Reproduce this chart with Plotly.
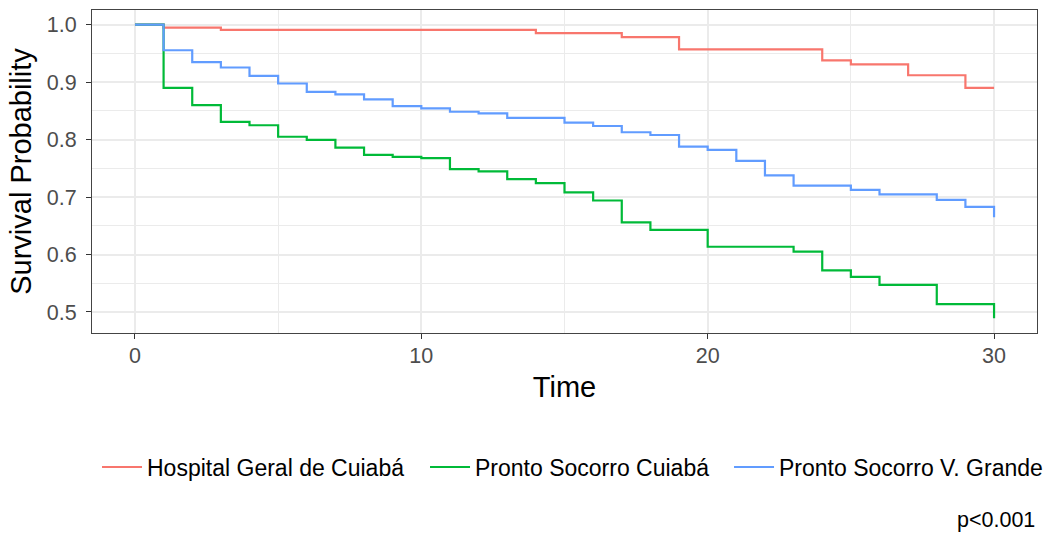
import plotly.graph_objects as go

# Kaplan-Meier estimates by hospital (time in days)
groups = ["Hospital Geral de Cuiabá", "Pronto Socorro Cuiabá", "Pronto Socorro V. Grande"]

time_hgc = [0, 1, 3, 14, 17, 19, 24, 25, 27, 29, 30]
surv_hgc = [1.0, 0.995, 0.991, 0.9855, 0.9785, 0.957, 0.938, 0.931, 0.912, 0.890, 0.890]

time_psc = [0, 1, 2, 3, 4, 5, 6, 7, 8, 9, 10, 11, 12, 13, 14, 15, 16, 17, 18, 20,
            23, 24, 25, 26, 28, 30]
surv_psc = [1.0, 0.890, 0.860, 0.831, 0.825, 0.805, 0.7995, 0.786, 0.7735, 0.770,
            0.7677, 0.7487, 0.7446, 0.7314, 0.7244, 0.708, 0.694, 0.656, 0.643, 0.6135,
            0.605, 0.5725, 0.561, 0.547, 0.5135, 0.489]

time_psvg = [0, 1, 2, 3, 4, 5, 6, 7, 8, 9, 10, 11, 12, 13, 15, 16, 17, 18, 19, 20,
             21, 22, 23, 25, 26, 28, 29, 30]
surv_psvg = [1.0, 0.9555, 0.935, 0.9255, 0.911, 0.8977, 0.8832, 0.8787, 0.870, 0.8584,
             0.8544, 0.8485, 0.8457, 0.838, 0.8295, 0.8237, 0.8128, 0.808, 0.7879, 0.782,
             0.763, 0.7376, 0.720, 0.7125, 0.7048, 0.695, 0.6828, 0.6648]

colors = ["#F8766D", "#00BA38", "#619CFF"]

x_ticks = [0, 10, 20, 30]
y_ticks = [0.5, 0.6, 0.7, 0.8, 0.9, 1.0]
y_tick_labels = ["0.5", "0.6", "0.7", "0.8", "0.9", "1.0"]
p_label = "p<0.001"

FONT = "Liberation Sans, Arial, sans-serif"

# one legend box per stratum, laid out in a single row under the plot
legend_ids = ["legend", "legend2", "legend3"]
legend_x = [0.0053, 0.3524, 0.6741]

fig = go.Figure()
for name, t, s, c, lg in zip(groups,
                             [time_hgc, time_psc, time_psvg],
                             [surv_hgc, surv_psc, surv_psvg],
                             colors, legend_ids):
    fig.add_trace(go.Scatter(
        x=t, y=s, name=name, mode="lines",
        line=dict(color=c, width=2.2, shape="hv"),
        hoverinfo="x+y+name",
        legend=lg,
    ))

grid_col = "#EBEBEB"
axis_common = dict(
    showline=True, mirror=True, linecolor="#444444", linewidth=1.2,
    ticks="outside", ticklen=5, tickwidth=1.2, tickcolor="#333333",
    showgrid=True, gridcolor=grid_col, gridwidth=1.5,
    zeroline=False,
    tickfont=dict(family=FONT, size=21.5, color="#4D4D4D"),
)

fig.update_xaxes(
    **axis_common,
    range=[-1.5, 31.5],
    tickvals=x_ticks,
    minor=dict(dtick=5, tick0=0, showgrid=True, gridcolor=grid_col, gridwidth=1, ticks=""),
    title=dict(text="Time", font=dict(family=FONT, size=29, color="black"), standoff=9),
    ticklabelstandoff=-2,
)
fig.update_yaxes(
    **axis_common,
    range=[0.4634, 1.0256],
    tickvals=y_ticks, ticktext=y_tick_labels,
    minor=dict(dtick=0.1, tick0=0.55, showgrid=True, gridcolor=grid_col, gridwidth=1, ticks=""),
    title=dict(text="Survival Probability", font=dict(family=FONT, size=29, color="black"), standoff=6),
    ticklabelstandoff=5,
)

fig.add_annotation(
    text=p_label, xref="paper", yref="paper", x=1.0, y=-0.58,
    xanchor="right", yanchor="middle", showarrow=False,
    font=dict(family=FONT, size=21.5, color="black"),
)

legend_style = dict(
    orientation="h", xanchor="left", y=-0.415, yanchor="middle",
    font=dict(family=FONT, size=23, color="black"),
    itemwidth=40,
    bgcolor="rgba(0,0,0,0)",
)

fig.update_layout(
    width=1054, height=534,
    margin=dict(l=92, r=17, t=10, b=201, autoexpand=False),
    paper_bgcolor="white", plot_bgcolor="white",
    font=dict(family=FONT, color="black"),
    legend=dict(legend_style, x=legend_x[0]),
    legend2=dict(legend_style, x=legend_x[1]),
    legend3=dict(legend_style, x=legend_x[2]),
    showlegend=True,
)

fig.write_html("out.html")
